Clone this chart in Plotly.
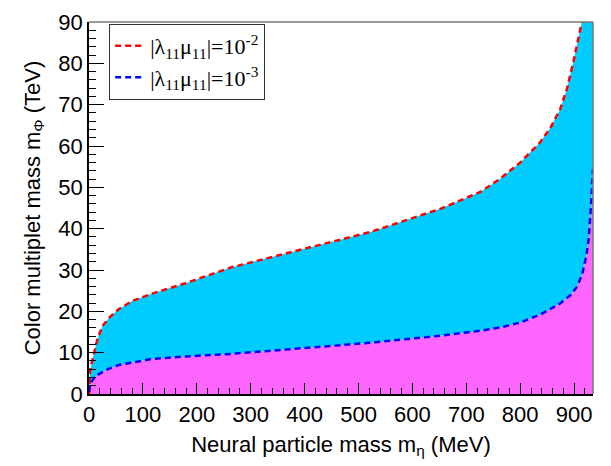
import plotly.graph_objects as go

# Upper curve |lambda11 mu11| = 1e-2 (red)
red_m = [0, 2, 5, 10, 15, 25, 40, 55, 80, 117, 179, 263, 392, 522, 652, 726, 763, 800, 837, 856, 874, 887, 899, 908, 915, 920, 935]
red_v = [0, 5.5, 7.5, 10.5, 13.0, 16.5, 18.8, 20.5, 22.5, 24.3, 26.8, 30.6, 34.9, 39.2, 44.8, 48.9, 52.1, 56.0, 60.9, 64.4, 68.9, 74.0, 80.6, 86.1, 89.6, 93.5, 130]

# Lower curve |lambda11 mu11| = 1e-3 (blue)
blue_m = [0, 2.4, 10, 18, 35, 55, 117, 180, 263, 392, 522, 652, 726, 763, 800, 837, 874, 893, 905, 915, 923, 927, 930, 932, 934, 935]
blue_v = [0.5, 2.5, 4.0, 4.8, 6.0, 7.0, 8.5, 9.1, 9.7, 11.0, 12.4, 14.1, 15.3, 16.1, 17.3, 19.2, 21.9, 23.9, 25.9, 29.0, 33.7, 37.6, 42.3, 47.0, 52.5, 54.5]

x_ticks = [0, 100, 200, 300, 400, 500, 600, 700, 800, 900]
y_ticks = [0, 10, 20, 30, 40, 50, 60, 70, 80, 90]

CYAN = "rgb(0,204,255)"
MAGENTA = "rgb(255,102,255)"

fig = go.Figure()
fig.add_trace(go.Scatter(x=blue_m, y=blue_v, mode="lines", line=dict(width=0, color=MAGENTA),
                         fill="tozeroy", fillcolor=MAGENTA, showlegend=False, hoverinfo="skip"))
fig.add_trace(go.Scatter(x=red_m, y=red_v, mode="lines", line=dict(width=0, color=CYAN),
                         fill="tonexty", fillcolor=CYAN, showlegend=False, hoverinfo="skip"))
fig.add_trace(go.Scatter(x=red_m, y=red_v, mode="lines",
                         line=dict(color="#ff0000", width=2.5, dash="6px,4px"),
                         name="|λ<sub>11</sub>μ<sub>11</sub>|=10<sup>-2</sup>"))
fig.add_trace(go.Scatter(x=blue_m, y=blue_v, mode="lines",
                         line=dict(color="#0000ff", width=2.5, dash="6px,4px"),
                         name="|λ<sub>11</sub>μ<sub>11</sub>|=10<sup>-3</sup>"))

axis_font = dict(family="Liberation Sans, Arial, sans-serif", size=22, color="black")
title_font = dict(family="Liberation Sans, Arial, sans-serif", size=22, color="black")

fig.update_layout(
    width=611, height=466,
    margin=dict(l=89, r=18, t=10, b=72),
    paper_bgcolor="white", plot_bgcolor="white",
    font=axis_font,
    showlegend=True,
    legend=dict(x=0.04, y=0.995, xanchor="left", yanchor="top", traceorder="normal",
                bgcolor="white", bordercolor="#333333", borderwidth=1,
                font=dict(family="Liberation Serif, Times New Roman, serif", size=22, color="black"),
                itemwidth=30, tracegroupgap=0),
    xaxis=dict(range=[0, 935], tickmode="array", tickvals=x_ticks, ticktext=[str(v) for v in x_ticks],
               ticks="inside", ticklen=11, tickwidth=1, tickcolor="black",
               minor=dict(ticks="inside", ticklen=6, dtick=20, tickcolor="black", tickwidth=1),
               showline=True, linecolor="black", linewidth=1.5, mirror=False,
               showgrid=False, zeroline=False, tickfont=axis_font, ticklabeloverflow="allow",
               title=dict(text="Neural particle mass m<sub>η</sub> (MeV)", font=title_font, standoff=10)),
    yaxis=dict(range=[0, 90], tickmode="array", tickvals=y_ticks, ticktext=[str(v) for v in y_ticks],
               ticks="inside", ticklen=15, tickwidth=1, tickcolor="black",
               minor=dict(ticks="inside", ticklen=7, dtick=2, tickcolor="black", tickwidth=1),
               showline=True, linecolor="black", linewidth=1.5, mirror=False,
               showgrid=False, zeroline=False, tickfont=axis_font, ticklabeloverflow="allow",
               title=dict(text="Color multiplet mass m<sub>Φ</sub> (TeV)", font=title_font, standoff=12)),
    shapes=[
        dict(type="line", xref="paper", yref="paper", x0=0, x1=1, y0=1, y1=1,
             line=dict(color="#777777", width=1.5)),
        dict(type="line", xref="paper", yref="paper", x0=1, x1=1, y0=0, y1=1,
             line=dict(color="#777777", width=1.5)),
    ],
)

fig.write_html("out.html")
